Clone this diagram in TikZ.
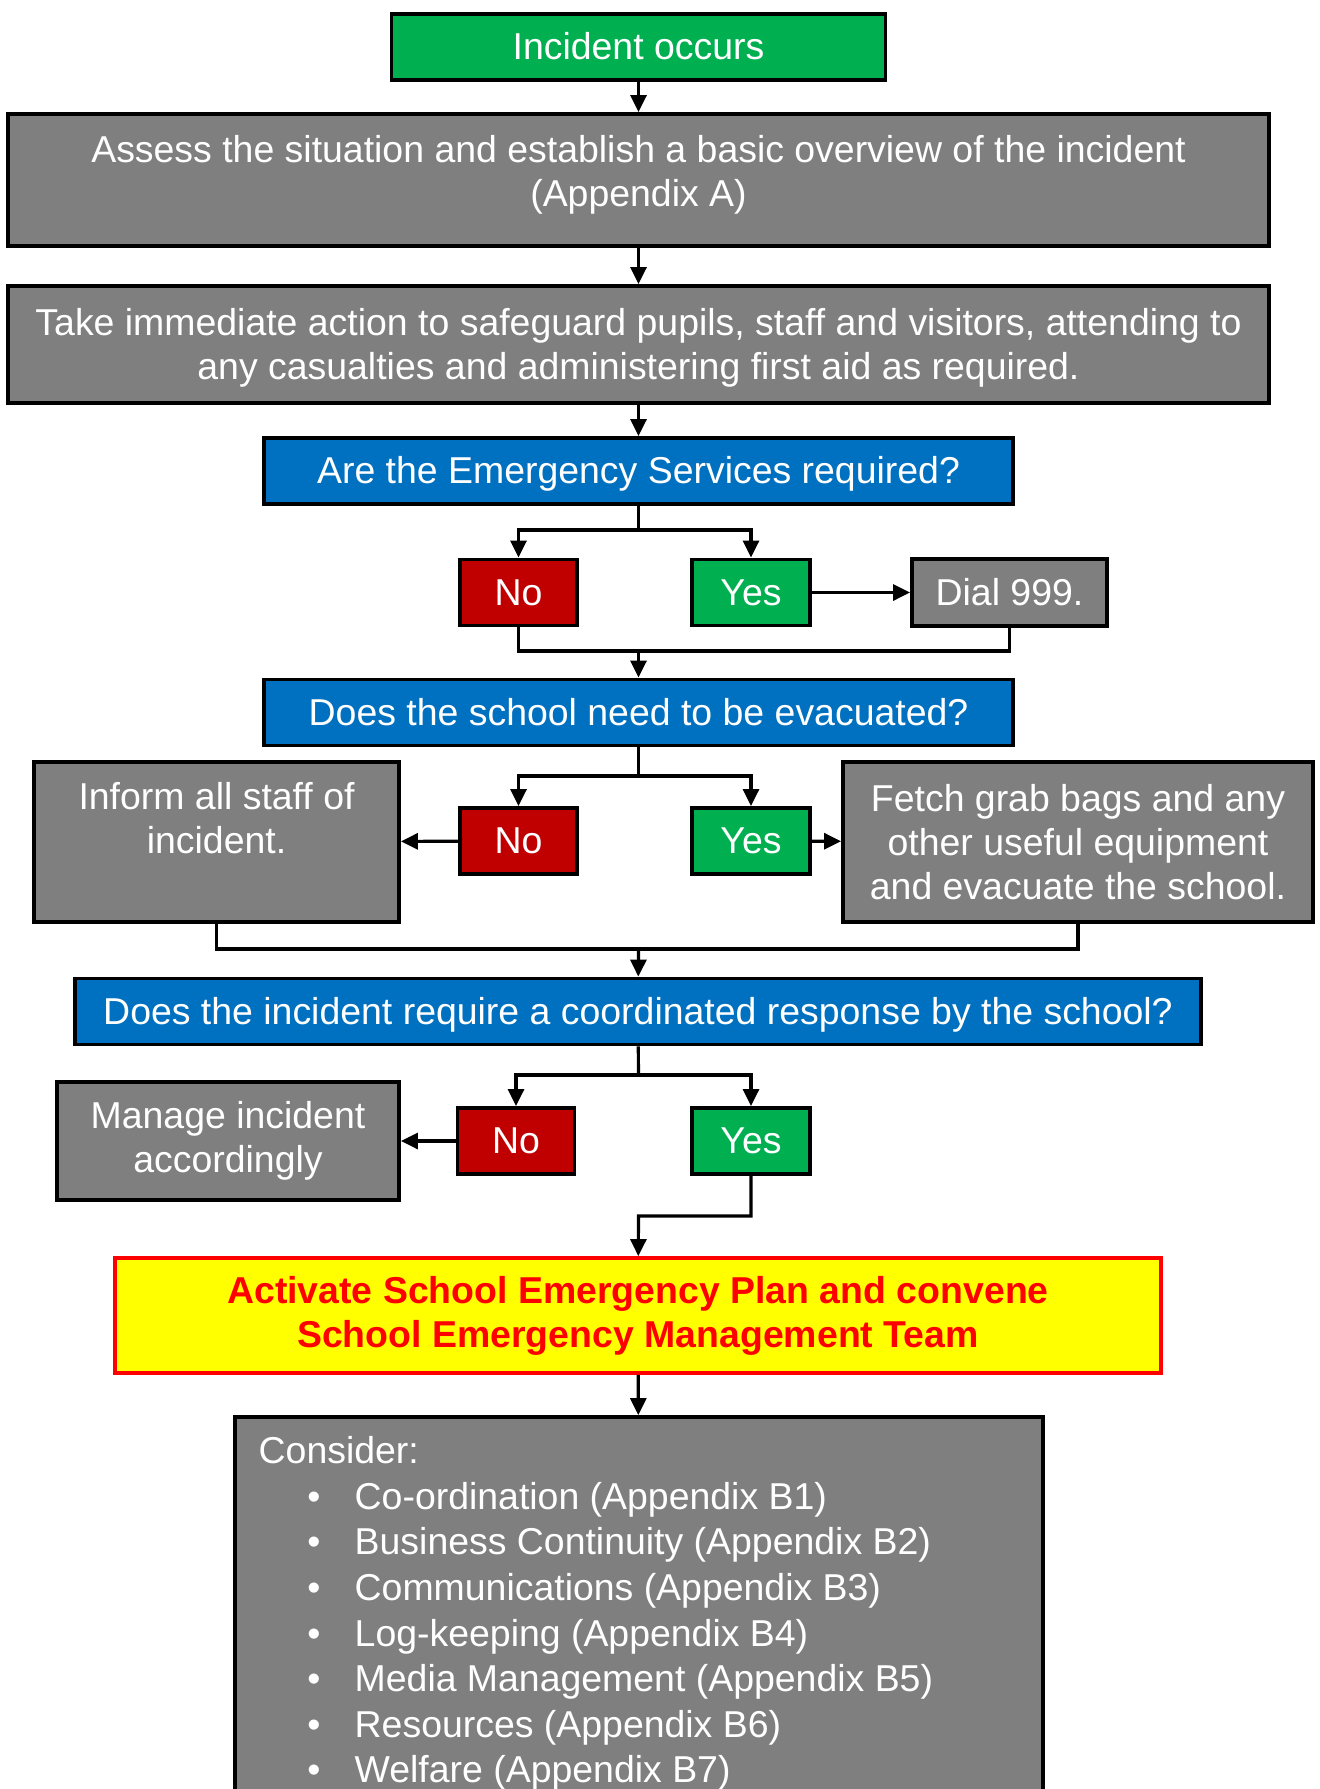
\documentclass[tikz,border=0pt]{standalone}
\usepackage{fontspec}
\setmainfont{Liberation Sans}
\usetikzlibrary{arrows.meta}

\definecolor{flowgreen}{HTML}{00B050}
\definecolor{flowgray}{HTML}{7F7F7F}
\definecolor{flowblue}{HTML}{0070C0}
\definecolor{flowred}{HTML}{C00000}
\definecolor{flowbright}{HTML}{FF0000}
\definecolor{flowyellow}{HTML}{FFFF00}

\newcommand{\chartfont}{\fontsize{10.65}{12.5}\selectfont}

\begin{document}
\begin{tikzpicture}[
    x=1cm, y=1cm,
    every node/.style={font=\chartfont},
    flowbox/.style={draw=black, line width=1.1pt, inner sep=0pt, align=center, text=white},
    oneline/.style={text height=0.72em, text depth=0pt},
    greenbox/.style={flowbox, fill=flowgreen},
    graybox/.style={flowbox, fill=flowgray},
    bluebox/.style={flowbox, oneline, fill=flowblue, minimum height=0.66cm},
    nobox/.style={flowbox, oneline, fill=flowred, minimum width=1.17cm, minimum height=0.66cm},
    yesbox/.style={flowbox, oneline, fill=flowgreen, minimum width=1.18cm, minimum height=0.66cm},
    boxtext/.style={text=white, align=center, inner sep=0pt},
    wire/.style={line width=0.9pt},
    arr/.style={wire, -{Triangle[length=1.7mm,width=1.6mm]}}
]
    \path[use as bounding box] (0,0) rectangle (13.2,-17.89);
    \clip (0,0) rectangle (13.2,-17.89);
    \fill[white] (0,0) rectangle (13.2,-17.89);

    \def\spineX{6.385}

    % first steps
    \node[greenbox, oneline, minimum width=4.94cm, minimum height=0.66cm] (incident) at (\spineX,-0.47) {Incident occurs};
    \node[graybox, minimum width=12.61cm, minimum height=1.32cm] (assess) at (\spineX,-1.80) {};
    \node[boxtext] (assesstxt) at ([yshift=0.5mm]assess.center)
        {Assess the situation and establish a basic overview of the incident\\(Appendix A)};
    \node[graybox, minimum width=12.61cm, minimum height=1.17cm] (take) at (\spineX,-3.445) {};
    \node[boxtext] (taketxt) at ([yshift=-0.3mm]take.center)
        {Take immediate action to safeguard pupils, staff and visitors, attending to\\any casualties and administering first aid as required.};

    % questions
    \node[bluebox, minimum width=7.49cm] (q1) at (\spineX,-4.71) {Are the Emergency Services required?};
    \node[bluebox, minimum width=7.49cm] (q2) at (\spineX,-7.125) {Does the school need to be evacuated?};
    \node[bluebox, minimum width=11.26cm] (q3) at (6.38,-10.115) {Does the incident require a coordinated response by the school?};

    \draw[arr] (incident) -- (assess);
    \draw[arr] (assess) -- (take);
    \draw[arr] (take) -- (q1);

    % yes / no answers
    \foreach \lvl/\ny/\nx/\sy in {1/-5.925/5.185/-5.30, 2/-8.41/5.185/-7.76, 3/-11.41/5.16/-10.75} {
        \node[nobox] (no\lvl) at (\nx,\ny) {No};
        \node[yesbox] (yes\lvl) at (7.51,\ny) {Yes};
        \coordinate (split\lvl) at (\spineX,\sy);
        \draw[wire] (q\lvl) -- (split\lvl);
        \draw[arr] (split\lvl) -| (no\lvl);
        \draw[arr] (split\lvl) -| (yes\lvl);
    }

    % emergency services
    \node[graybox, oneline, minimum width=1.95cm, minimum height=0.67cm] (dial) at (10.095,-5.925) {Dial 999.};
    \draw[arr] (yes1) -- (dial);
    \coordinate (merge1) at (\spineX,-6.51);
    \draw[wire] (no1) |- (merge1) -| (dial);
    \draw[arr] (merge1) -- (q2);

    % evacuation
    \node[graybox, minimum width=3.65cm, minimum height=1.60cm] (inform) at (2.165,-8.42) {};
    \node[boxtext] (informtxt) at ([yshift=2.4mm]inform.center) {Inform all staff of\\incident.};
    \node[graybox, minimum width=4.70cm, minimum height=1.60cm] (fetch) at (10.78,-8.42)
        {Fetch grab bags and any\\other useful equipment\\and evacuate the school.};
    \draw[arr] (no2) -- (inform);
    \draw[arr] (yes2) -- (fetch);
    \coordinate (merge2) at (\spineX,-9.49);
    \draw[wire] (inform) |- (merge2) -| (fetch);
    \draw[arr] (merge2) -- (q3);

    % coordinated response
    \node[graybox, minimum width=3.42cm, minimum height=1.18cm] (manage) at (2.28,-11.41) {Manage incident\\accordingly};
    \draw[arr] (no3) -- (manage);

    \node[flowbox, draw=flowbright, fill=flowyellow, text=flowbright, font=\chartfont\bfseries,
        minimum width=10.46cm, minimum height=1.15cm] (activate) at (6.38,-13.155)
        {Activate School Emergency Plan and convene\\School Emergency Management Team};
    \coordinate (bend3) at (\spineX,-12.16);
    \draw[arr] (yes3) |- (bend3) -- (activate);

    % things to consider
    \node[graybox, minimum width=8.08cm, minimum height=4.26cm] (consider) at (6.39,-16.30) {};
    \draw[arr] (activate) -- (consider);
    \node[boxtext, oneline, anchor=west] (considertxt) at (2.58,-14.51) {Consider:};
    \foreach \i/\txt in {
        1/Co-ordination (Appendix B1),
        2/Business Continuity (Appendix B2),
        3/Communications (Appendix B3),
        4/Log-keeping (Appendix B4),
        5/Media Management (Appendix B5),
        6/Resources (Appendix B6),
        7/Welfare (Appendix B7)
    }{
        \node[boxtext, oneline] (dot\i) at (3.14,{-14.51-0.456*\i}) {\textbullet};
        \node[boxtext, oneline, anchor=west] (item\i) at (3.54,{-14.51-0.456*\i}) {\txt};
    }
\end{tikzpicture}
\end{document}
